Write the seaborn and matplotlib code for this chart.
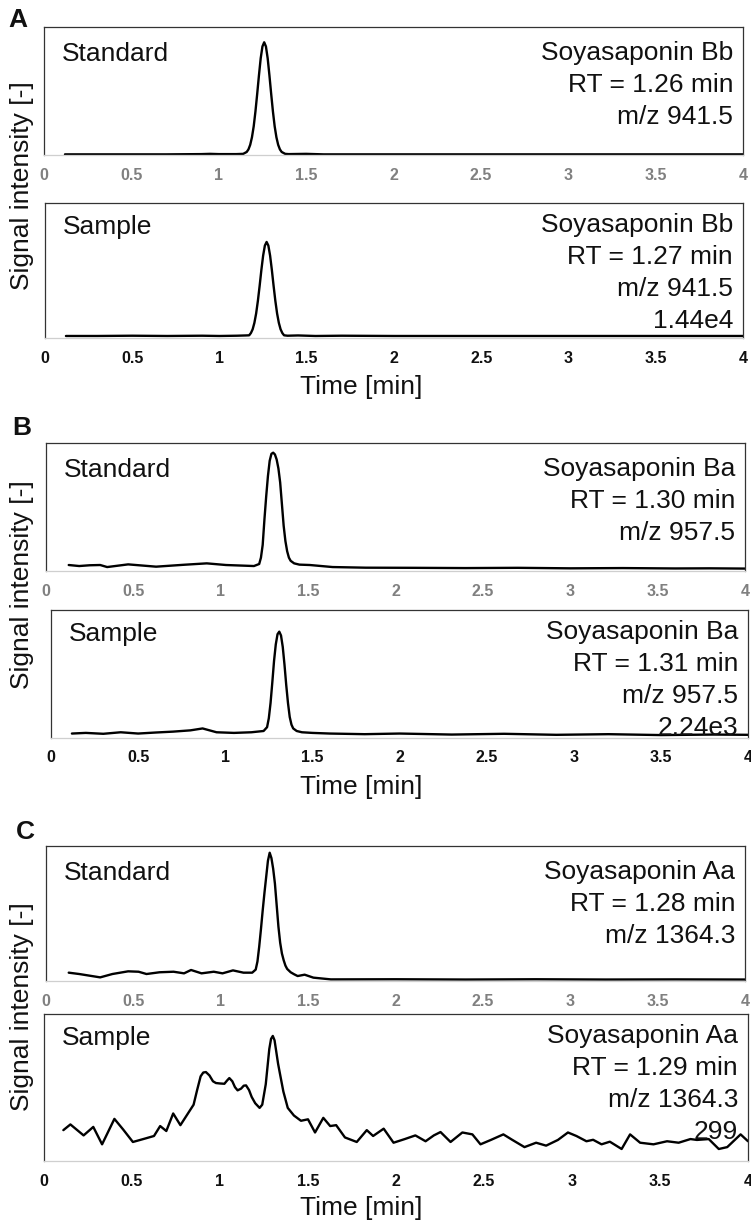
import matplotlib
import matplotlib.pyplot as plt
import pandas as pd
import seaborn as sns

matplotlib.use('Agg')

# ---- data (normalised signal) ----
a_std_t = [0.12, 0.3, 0.5, 0.7, 0.9, 0.95, 1.0, 1.1, 1.14, 1.16, 1.17, 1.18, 1.19, 1.20, 1.21,
           1.22, 1.23, 1.24, 1.25, 1.26, 1.27, 1.28, 1.29, 1.30, 1.31, 1.32, 1.33, 1.34, 1.35,
           1.36, 1.38, 1.40, 1.5, 1.55, 1.6, 2.0, 2.5, 3.0, 3.5, 4.0]
a_std_y = [0.0, 0.0, 0.0, 0.0, 0.002, 0.004, 0.002, 0.002, 0.004, 0.019, 0.039, 0.075, 0.134,
           0.22, 0.337, 0.475, 0.62, 0.754, 0.847, 0.88, 0.847, 0.754, 0.62, 0.475, 0.337, 0.22,
           0.134, 0.075, 0.039, 0.019, 0.004, 0.002, 0.004, 0.002, 0.0, 0.0, 0.0, 0.0, 0.0, 0.0]

a_smp_t = [0.12, 0.3, 0.5, 0.7, 0.9, 1.0, 1.1, 1.15, 1.17, 1.18, 1.19, 1.20, 1.21, 1.22, 1.23,
           1.24, 1.25, 1.26, 1.27, 1.28, 1.29, 1.30, 1.31, 1.32, 1.33, 1.34, 1.35, 1.36, 1.37,
           1.39, 1.45, 1.55, 1.7, 2.0, 2.5, 3.0, 3.5, 4.0]
a_smp_y = [0.01, 0.01, 0.012, 0.01, 0.012, 0.01, 0.012, 0.014, 0.015, 0.032, 0.06, 0.108, 0.178,
           0.272, 0.383, 0.502, 0.608, 0.683, 0.71, 0.683, 0.608, 0.502, 0.383, 0.272, 0.178,
           0.108, 0.06, 0.032, 0.015, 0.012, 0.014, 0.01, 0.012, 0.01, 0.01, 0.01, 0.01, 0.01]

b_std_t = [0.13, 0.19, 0.25, 0.31, 0.35, 0.47, 0.63, 0.79, 0.92, 1.03, 1.19, 1.22, 1.23, 1.24,
           1.25, 1.26, 1.27, 1.28, 1.29, 1.30, 1.31, 1.32, 1.33, 1.34, 1.35, 1.36, 1.37, 1.38,
           1.39, 1.40, 1.42, 1.45, 1.51, 1.64, 1.83, 2.1, 2.4, 2.7, 3.0, 3.3, 3.6, 3.8, 4.0]
b_std_y = [0.042, 0.034, 0.04, 0.042, 0.026, 0.047, 0.029, 0.044, 0.055, 0.042, 0.034, 0.05,
           0.1, 0.2, 0.40, 0.58, 0.74, 0.86, 0.915, 0.924, 0.91, 0.87, 0.80, 0.69, 0.52, 0.35,
           0.23, 0.15, 0.10, 0.075, 0.055, 0.045, 0.042, 0.026, 0.021, 0.02, 0.018, 0.02, 0.016,
           0.018, 0.015, 0.016, 0.014]

b_smp_t = [0.12, 0.2, 0.3, 0.4, 0.5, 0.6, 0.7, 0.8, 0.87, 0.95, 1.05, 1.15, 1.22, 1.24, 1.25,
           1.26, 1.27, 1.28, 1.29, 1.30, 1.31, 1.32, 1.33, 1.34, 1.35, 1.36, 1.37, 1.38, 1.39,
           1.41, 1.44, 1.5, 1.6, 1.8, 2.0, 2.3, 2.6, 2.9, 3.2, 3.5, 3.8, 4.0]
b_smp_y = [0.03, 0.035, 0.028, 0.04, 0.03, 0.038, 0.045, 0.055, 0.07, 0.04, 0.035, 0.04, 0.05,
           0.08, 0.15, 0.27, 0.43, 0.60, 0.73, 0.81, 0.83, 0.80, 0.71, 0.57, 0.41, 0.27, 0.16,
           0.10, 0.07, 0.05, 0.04, 0.035, 0.03, 0.025, 0.03, 0.022, 0.028, 0.02, 0.025, 0.018,
           0.022, 0.02]

c_std_t = [0.13, 0.19, 0.31, 0.38, 0.47, 0.53, 0.575, 0.65, 0.73, 0.79, 0.83, 0.89, 0.96, 1.01,
           1.07, 1.13, 1.18, 1.20, 1.21, 1.22, 1.23, 1.24, 1.25, 1.26, 1.27, 1.28, 1.29, 1.30,
           1.31, 1.32, 1.33, 1.34, 1.35, 1.36, 1.37, 1.38, 1.40, 1.42, 1.44, 1.48, 1.53, 1.63,
           2.0, 2.4, 2.8, 3.2, 3.6, 4.0]
c_std_y = [0.057, 0.047, 0.022, 0.047, 0.067, 0.064, 0.047, 0.06, 0.064, 0.052, 0.077, 0.052,
           0.064, 0.052, 0.074, 0.057, 0.057, 0.08, 0.14, 0.25, 0.38, 0.52, 0.65, 0.77, 0.89,
           0.95, 0.91, 0.83, 0.72, 0.56, 0.40, 0.28, 0.20, 0.15, 0.11, 0.085, 0.06, 0.045, 0.032,
           0.042, 0.02, 0.007, 0.008, 0.006, 0.008, 0.006, 0.007, 0.006]

c_smp_t = [0.11, 0.15, 0.225, 0.28, 0.33, 0.40, 0.45, 0.505, 0.57, 0.625, 0.66, 0.695, 0.734,
           0.775, 0.82, 0.85, 0.87, 0.89, 0.905, 0.92, 0.94, 0.96, 0.977, 1.0, 1.025, 1.04,
           1.053, 1.07, 1.085, 1.10, 1.12, 1.135, 1.148, 1.165, 1.18, 1.20, 1.225, 1.24, 1.26,
           1.27, 1.28, 1.29, 1.30, 1.31, 1.32, 1.33, 1.34, 1.36, 1.385, 1.42, 1.46, 1.50, 1.54,
           1.587, 1.626, 1.66, 1.71, 1.777, 1.834, 1.87, 1.93, 1.986, 2.05, 2.11, 2.168, 2.215,
           2.253, 2.31, 2.377, 2.434, 2.48, 2.539, 2.61, 2.66, 2.73, 2.796, 2.853, 2.92, 2.977,
           3.025, 3.082, 3.12, 3.168, 3.215, 3.282, 3.33, 3.387, 3.463, 3.54, 3.606, 3.673, 3.71,
           3.777, 3.834, 3.882, 3.958, 4.0]
c_smp_y = [0.206, 0.245, 0.17, 0.228, 0.109, 0.283, 0.21, 0.125, 0.147, 0.166, 0.234, 0.2, 0.32,
           0.24, 0.324, 0.38, 0.48, 0.574, 0.60, 0.603, 0.58, 0.54, 0.528, 0.525, 0.523, 0.545,
           0.562, 0.54, 0.50, 0.478, 0.49, 0.51, 0.512, 0.48, 0.433, 0.39, 0.358, 0.38, 0.52,
           0.64, 0.76, 0.83, 0.85, 0.82, 0.74, 0.66, 0.596, 0.47, 0.358, 0.306, 0.27, 0.28, 0.19,
           0.29, 0.234, 0.24, 0.156, 0.125, 0.206, 0.166, 0.216, 0.12, 0.145, 0.17, 0.13, 0.17,
           0.193, 0.125, 0.19, 0.177, 0.109, 0.139, 0.177, 0.14, 0.09, 0.12, 0.10, 0.139, 0.19,
           0.166, 0.13, 0.14, 0.109, 0.127, 0.077, 0.177, 0.12, 0.109, 0.13, 0.12, 0.145, 0.139,
           0.145, 0.077, 0.09, 0.177, 0.13]

compounds = ['Soyasaponin Bb', 'Soyasaponin Ba', 'Soyasaponin Aa']
mz_labels = ['m/z 941.5', 'm/z 957.5', 'm/z 1364.3']
rt_std = ['1.26', '1.30', '1.28']
rt_smp = ['1.27', '1.31', '1.29']
smp_max = ['1.44e4', '2.24e3', '299']
panel_letters = ['A', 'B', 'C']
x_ticks = [0, 0.5, 1, 1.5, 2, 2.5, 3, 3.5, 4]
x_tick_labels = ['0', '0.5', '1', '1.5', '2', '2.5', '3', '3.5', '4']

traces = [(a_std_t, a_std_y), (a_smp_t, a_smp_y), (b_std_t, b_std_y),
          (b_smp_t, b_smp_y), (c_std_t, c_std_y), (c_smp_t, c_smp_y)]

# ---- layout in pixels (left, top, right, bottom) ----
W, H = 751, 1222
boxes = [(44, 27, 743, 155), (45, 203, 743, 338),
         (46, 443, 745, 571), (51, 610, 748, 738),
         (46, 846, 745, 981), (44, 1014, 748, 1161)]

sns.set_theme(style='white')
plt.rcParams['font.family'] = ['Liberation Sans', 'DejaVu Sans']
plt.rcParams['text.color'] = '#111111'

fig = plt.figure(figsize=(W / 100, H / 100), dpi=100)

for i, (box, (t, y)) in enumerate(zip(boxes, traces)):
    l, tp, r, b = box
    ax = fig.add_axes([l / W, 1 - b / H, (r - l) / W, (b - tp) / H])
    df = pd.DataFrame({'t': t, 'y': y})
    sns.lineplot(data=df, x='t', y='y', ax=ax, color='black', linewidth=1.7,
                 solid_joinstyle='round')
    ax.set_xlim(0, 4)
    ax.set_ylim(-0.005, 1)
    ax.set_yticks([])
    ax.set_xlabel('')
    ax.set_ylabel('')
    ax.set_xticks(x_ticks)
    is_std = i % 2 == 0
    ax.set_xticklabels(x_tick_labels, fontsize=11.5, fontweight='bold',
                       color='#808080' if is_std else '#111111')
    ax.tick_params(axis='x', length=0, pad=9)
    for s in ['top', 'left', 'right']:
        ax.spines[s].set_color('#333333')
        ax.spines[s].set_linewidth(0.9)
    ax.spines['bottom'].set_color('#cfcfcf')
    ax.spines['bottom'].set_linewidth(0.9)

    k = i // 2
    ax.annotate('Standard' if is_std else 'Sample', xy=(0, 1), xycoords='axes fraction',
                xytext=(18, -27 if is_std else -24), textcoords='offset pixels',
                ha='left', va='center', fontsize=19)
    lines = [compounds[k], 'RT = ' + (rt_std[k] if is_std else rt_smp[k]) + ' min', mz_labels[k]]
    if not is_std:
        lines.append(smp_max[k])
    first = -26 if is_std else -22
    for j, txt in enumerate(lines):
        ax.annotate(txt, xy=(1, 1), xycoords='axes fraction',
                    xytext=(-10, first - 32 * j), textcoords='offset pixels',
                    ha='right', va='center', fontsize=19)

# panel letters, axis titles
for letter, (px, py) in zip(panel_letters, [(18, 20), (22, 428), (25, 832)]):
    fig.text(px / W, 1 - py / H, letter, fontsize=19, fontweight='bold', ha='center', va='center')

for py in [387, 787, 1208]:
    fig.text(361 / W, 1 - py / H, 'Time [min]', fontsize=19, ha='center', va='center')

for py in [186, 585, 1007]:
    fig.text(22 / W, 1 - py / H, 'Signal intensity [-]', fontsize=19, rotation=90,
             ha='center', va='center')

plt.savefig('out.png', dpi=100)
